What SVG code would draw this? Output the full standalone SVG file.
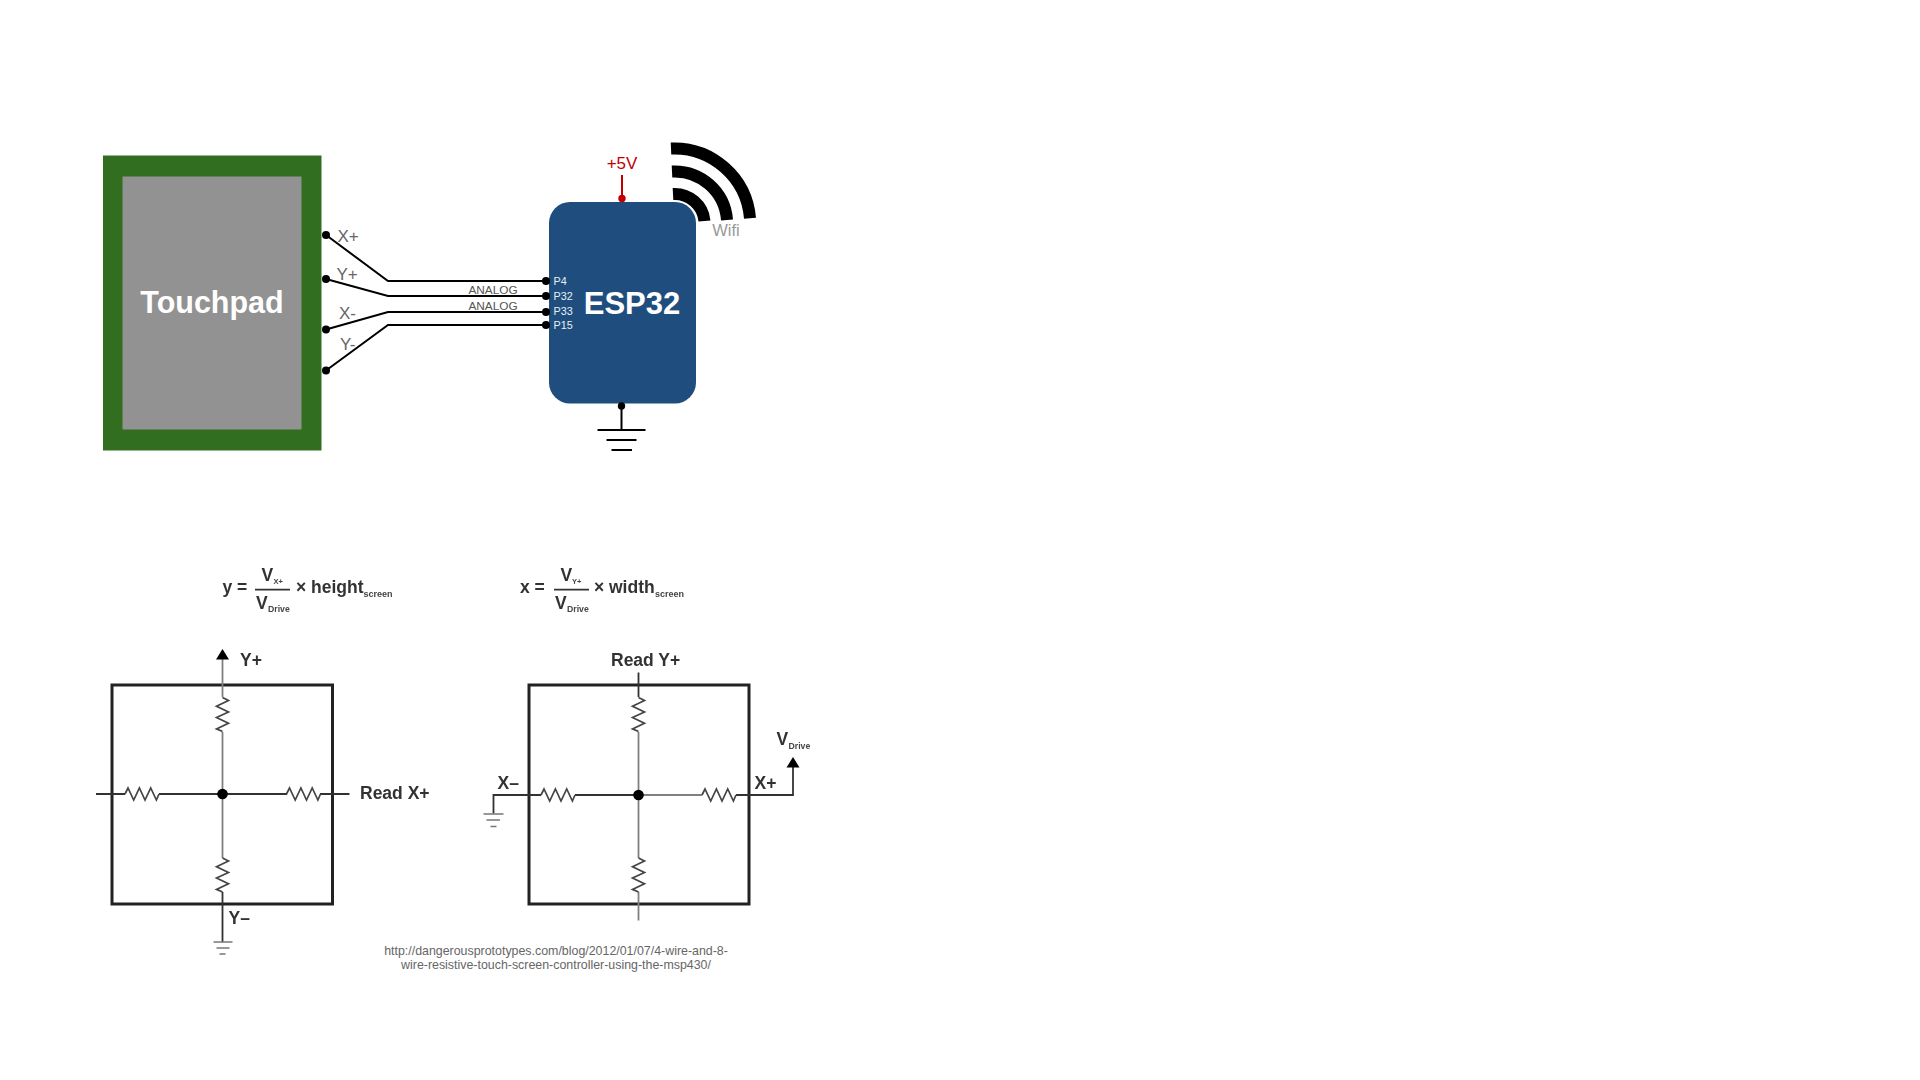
<svg xmlns="http://www.w3.org/2000/svg" width="1920" height="1080" viewBox="0 0 1920 1080">
<style>
text{font-family:"Liberation Sans",Arial,sans-serif}
.wire{fill:none;stroke:#000;stroke-width:2}
.pin{fill:#000}
.lbl{font-size:17px;fill:#666}
.an{font-size:11.800px;fill:#555;text-anchor:middle}
.p{font-size:10.800px;fill:#e8eef4}
.arc{fill:none;stroke:#000;stroke-width:12}
.gnd{stroke:#000;stroke-width:2}
.box{fill:none;stroke:#222;stroke-width:3}
.dk{fill:none;stroke:#333;stroke-width:1.800}
.gr{fill:none;stroke:#808080;stroke-width:1.800}
.res{fill:none;stroke:#444;stroke-width:1.700}
.gg{stroke:#777;stroke-width:1.300}
.b{font-weight:bold;fill:#333;font-size:17.500px}
.s{font-weight:bold;fill:#444;font-size:8.700px}
.url{font-size:12.400px;fill:#666;text-anchor:middle}
</style>
<defs>
<filter id="soft" x="-5%" y="-5%" width="110%" height="110%"><feGaussianBlur stdDeviation="0.55"/></filter>
<path id="rz" d="M0 0L3 -6L8.700 6L14.400 -6L20 6L25.700 -6L31.400 6L34 0"/>
</defs>
<rect width="1920" height="1080" fill="#fff"/>
<g id="touchpad">
<rect x="103" y="155.500" width="218.500" height="295" fill="#316e1f"/>
<rect x="122.500" y="176.500" width="179" height="253" fill="#929292"/>
<text x="212" y="313" font-size="30.500" font-weight="bold" fill="#fff" text-anchor="middle">Touchpad</text>
</g>
<g id="esp32">
<rect x="549" y="202" width="147" height="201.500" rx="21" fill="#1f4e7e"/>
<text x="632" y="314" font-size="31" font-weight="bold" fill="#fff" text-anchor="middle">ESP32</text>
<text class="p" x="553.500" y="285">P4</text>
<text class="p" x="553.500" y="300">P32</text>
<text class="p" x="553.500" y="315">P33</text>
<text class="p" x="553.500" y="329">P15</text>
</g>
<g id="wifi">
<path class="arc" d="M671 148.500A76 76 0 0 1 750 218.300"/>
<path class="arc" d="M672 171.500A52.500 52.500 0 0 1 727 220"/>
<path class="arc" d="M673 194A30 30 0 0 1 704.500 221"/>
<text x="726" y="235.500" font-size="16.500" fill="#999" text-anchor="middle">Wifi</text>
</g>
<g id="connectors">
<path class="wire" d="M326 235L388 281H546"/>
<path class="wire" d="M326 279L388 296H546"/>
<path class="wire" d="M326 329.500L388 312H546"/>
<path class="wire" d="M326 370.500L388 325H546"/>
<g class="pin">
<circle cx="326" cy="235" r="4"/><circle cx="326" cy="279" r="4"/><circle cx="326" cy="329.500" r="4"/><circle cx="326" cy="370.500" r="4"/>
<circle cx="546" cy="281" r="4"/><circle cx="546" cy="296" r="4"/><circle cx="546" cy="312" r="4"/><circle cx="546" cy="325" r="4"/>
</g>
<path d="M622 175V198" stroke="#c00000" stroke-width="2" fill="none"/>
<circle cx="622" cy="198.500" r="3.700" fill="#c00000"/>
<circle cx="621.500" cy="406" r="3.700"/>
<path class="gnd" d="M621.500 406V430M597.500 430H645.500M606.500 440H636.500M611.500 450H632"/>
</g>
<g id="labels">
<text class="lbl" x="337.500" y="241.500">X+</text>
<text class="lbl" x="336.500" y="280">Y+</text>
<text class="lbl" x="339" y="319">X-</text>
<text class="lbl" x="340" y="350">Y-</text>
<text class="an" x="493" y="294">ANALOG</text>
<text class="an" x="493" y="310">ANALOG</text>
<text x="622" y="168.500" font-size="17" fill="#c00000" text-anchor="middle">+5V</text>
</g>
<g id="read-x" filter="url(#soft)">
<rect class="box" x="112" y="685" width="220.500" height="219"/>
<path class="gr" d="M222.500 656V697M222.500 732V858"/>
<path class="dk" d="M222.500 892V942M96 794H125M159 794H287M320 794H349.500"/>
<path d="M222.500 649L229 659.500H216Z" fill="#000"/>
<use href="#rz" class="res" transform="translate(222.500 697.500) rotate(90)"/>
<use href="#rz" class="res" transform="translate(222.500 858) rotate(90)"/>
<use href="#rz" class="res" transform="translate(125 794)"/>
<use href="#rz" class="res" transform="translate(286.500 794)"/>
<circle cx="222.500" cy="794" r="5.300" fill="#000"/>
<path class="gg" d="M213.500 942H232.500M216.500 948H229.500M219.500 954H225.500"/>
<text class="b" x="240" y="666">Y+</text>
<text class="b" x="360" y="799">Read X+</text>
<text class="b" x="228.500" y="923.500">Y–</text>
<text class="b" x="222.500" y="593">y =</text>
<text class="b" x="261.500" y="581">V</text>
<text class="s" x="273.500" y="584" style="font-size:7.500px">X+</text>
<path class="dk" d="M255 589.700H290"/>
<text class="b" x="256" y="608.500">V</text>
<text class="s" x="268" y="612">Drive</text>
<text class="b" x="296" y="593">×</text>
<text class="b" x="311" y="593">height</text>
<text class="s" x="363.500" y="597" style="font-size:9px">screen</text>
</g>
<g id="read-y" filter="url(#soft)">
<rect class="box" x="529" y="685" width="220" height="219"/>
<path class="dk" d="M638.500 672.500V697"/>
<path class="gr" d="M638.500 732V858M638.500 892V920.500M638.500 795H702"/>
<path class="dk" d="M493.500 813.500V795H541M575 795H638.500M736 795H793V763"/>
<path d="M793 757L799.500 767.500H786.500Z" fill="#000"/>
<use href="#rz" class="res" transform="translate(638.500 697.500) rotate(90)"/>
<use href="#rz" class="res" transform="translate(638.500 858) rotate(90)"/>
<use href="#rz" class="res" transform="translate(541 795)"/>
<use href="#rz" class="res" transform="translate(702 795)"/>
<circle cx="638.500" cy="795" r="5.300" fill="#000"/>
<path class="gg" d="M483.500 814H503.500M486.500 820H500M490.500 826.500H496.500"/>
<text class="b" x="611" y="666">Read Y+</text>
<text class="b" x="497.500" y="789">X–</text>
<text class="b" x="754.500" y="789">X+</text>
<text class="b" x="776.500" y="745">V</text>
<text class="s" x="788.500" y="749">Drive</text>
<text class="b" x="520" y="592.500">x =</text>
<text class="b" x="560.500" y="581">V</text>
<text class="s" x="572" y="584" style="font-size:7.500px">Y+</text>
<path class="dk" d="M554 589.700H589"/>
<text class="b" x="555" y="608.500">V</text>
<text class="s" x="567" y="612">Drive</text>
<text class="b" x="594" y="593">×</text>
<text class="b" x="609" y="593">width</text>
<text class="s" x="655" y="597" style="font-size:9px">screen</text>
</g>
<g id="source">
<text class="url" x="556" y="954.500">http://dangerousprototypes.com/blog/2012/01/07/4-wire-and-8-</text>
<text class="url" x="556" y="969">wire-resistive-touch-screen-controller-using-the-msp430/</text>
</g>
</svg>
